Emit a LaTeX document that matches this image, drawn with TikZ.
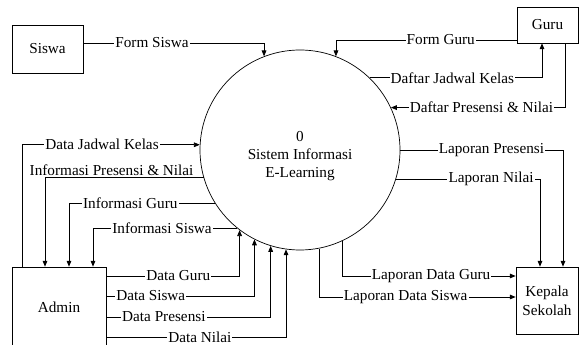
\documentclass[tikz,border=0pt]{standalone}
\usepackage{fontspec}
\setmainfont{Liberation Serif}
\usetikzlibrary{arrows.meta, positioning}

\begin{document}
\begin{tikzpicture}[
    x=0.03cm, y=-0.03cm,
    font=\fontsize{13}{16}\selectfont,
    box/.style={rectangle, draw, line width=0.6pt, align=center, inner sep=0pt},
    proc/.style={circle, draw, line width=0.6pt, minimum size=6cm,
        align=center, inner sep=0pt},
    arr/.style={-{Triangle[length=5pt, width=4pt]}, line width=0.6pt},
    lbl/.style={fill=white, inner sep=1pt}
]
\path[use as bounding box, clip] (0,0) rectangle (579,345);

\node[proc] (sys) at (300,150) {\rule{0pt}{0.66cm}0\\Sistem Informasi\\[-1pt]E-Learning};
\node[box, minimum width=2.13cm, minimum height=1.44cm] (siswa) at (47.5,49) {Siswa};
\node[box, minimum width=1.83cm, minimum height=1.08cm] (guru) at (547.5,25) {Guru};
\node[box, minimum width=2.82cm, minimum height=2.4cm] (admin) at (59,307) {Admin};
\node[box, minimum width=1.86cm, minimum height=2.01cm] (kepala) at (547,300.5) {Kepala\\Sekolah};

\draw[arr] ([yshift=0.18cm]siswa.east) -| node[lbl, pos=0.19] {Form Siswa} (sys.111.1);
\draw[arr] ([yshift=-0.45cm]guru.west) -| node[lbl, pos=0.21] {Form Guru} (sys.69.5);
\draw[arr] (sys.46) -| node[lbl, pos=0.24] {Daftar Jadwal Kelas} ([xshift=-0.165cm]guru.south);
\draw[arr] ([xshift=0.525cm]guru.south) |- node[lbl, pos=0.74] {Daftar Presensi \& Nilai} (sys.25.5);

\draw[arr] (sys.0) -| node[lbl, pos=0.28] {Laporan Presensi} ([xshift=0.48cm]kepala.north);
\draw[arr] (sys.-17.5) -| node[lbl, pos=0.33] {Laporan Nilai} ([xshift=-0.21cm]kepala.north);
\draw[arr] (sys.-65.2) |- node[lbl, pos=0.756] {Laporan Data Guru} ([yshift=0.735cm]kepala.west);
\draw[arr] (sys.-79.05) |- node[lbl, pos=0.72] {Laporan Data Siswa} ([yshift=0.105cm]kepala.west);

\draw[arr] ([xshift=-1.11cm]admin.north) |- node[lbl, pos=0.725] {Data Jadwal Kelas} (sys.177.1);
\draw[arr] (sys.196.9) -| node[above, inner sep=1pt, pos=0.29] {Informasi Presensi \& Nilai} ([xshift=-0.42cm]admin.north);
\draw[arr] (sys.212) -| node[lbl, pos=0.29] {Informasi Guru} ([xshift=0.3cm]admin.north);
\draw[arr] (sys.231.25) -| node[lbl, pos=0.26] {Informasi Siswa} ([xshift=1.02cm]admin.north);

\draw[arr] ([yshift=0.93cm]admin.east) -| node[lbl, pos=0.27] {Data Guru} (sys.233.13);
\draw[arr] ([yshift=0.33cm]admin.east) -| node[lbl, pos=0.15] {Data Siswa} (sys.243.9);
\draw[arr] ([yshift=-0.3cm]admin.east) -| node[lbl, pos=0.175] {Data Presensi} (sys.253.7);
\draw[arr] ([yshift=-0.9cm]admin.east) -| node[lbl, pos=0.26] {Data Nilai} (sys.262.5);
\end{tikzpicture}
\end{document}
